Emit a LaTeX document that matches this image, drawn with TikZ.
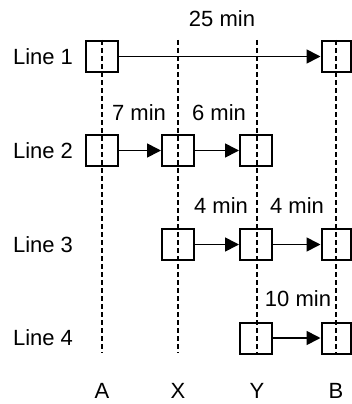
\documentclass[tikz,border=0pt]{standalone}
\usepackage{fontspec}
\setmainfont{Liberation Sans}
\usetikzlibrary{arrows.meta}
\begin{document}
\begin{tikzpicture}[x=1pt,y=-1pt,
  stop/.style={draw,line width=2pt,minimum width=32pt,minimum height=31pt,inner sep=0pt},
  stopedge/.style={stop,minimum width=29pt},
  lbl/.style={inner sep=0pt,font=\fontsize{22}{26}\selectfont},
  guide/.style={line width=1.3pt,dash pattern=on 5pt off 3pt},
  arr/.style={line width=1.7pt,-{Triangle[length=14pt,width=14pt]}}]
\useasboundingbox (0,0) rectangle (352,404);
% guide lines
\foreach \n/\x in {A/102,X/178,Y/257,B/336}{
  \coordinate (t\n) at (\x,40);
  \coordinate (b\n) at (\x,353);
  \draw[guide] (t\n) -- (b\n);
  \node[lbl] (c\n) at (\x,391) {\n};
}
% row labels
\node[lbl] (l1) at (43,56.5) {Line 1};
\node[lbl] (l2) at (43,150.5) {Line 2};
\node[lbl] (l3) at (43,244.5) {Line 3};
\node[lbl] (l4) at (43,338) {Line 4};
% boxes
\node[stop] (a1) at (102,56.5) {};
\node[stopedge] (b1) at (336,56.5) {};
\node[stop] (a2) at (102,150.5) {};
\node[stop] (x2) at (178,150.5) {};
\node[stop] (y2) at (256,150.5) {};
\node[stop] (x3) at (178,244.5) {};
\node[stop] (y3) at (256,244.5) {};
\node[stopedge] (b3) at (336,244.5) {};
\node[stop] (y4) at (256,338) {};
\node[stopedge] (b4) at (336,338) {};
% arrows
\draw[arr] (a1.east) -- (b1.west);
\draw[arr] (a2.east) -- (x2.west);
\draw[arr] (x2.east) -- (y2.west);
\draw[arr] (x3.east) -- (y3.west);
\draw[arr] (y3.east) -- (b3.west);
\draw[arr] (y4.east) -- (b4.west);
% time labels
\node[lbl] (m1) at (222,18.5) {25 min};
\node[lbl] (m2) at (139,112.5) {7 min};
\node[lbl] (m3) at (219,112.5) {6 min};
\node[lbl] (m4) at (221,206) {4 min};
\node[lbl] (m5) at (297,206) {4 min};
\node[lbl] (m6) at (298,299) {10 min};
\end{tikzpicture}
\end{document}
